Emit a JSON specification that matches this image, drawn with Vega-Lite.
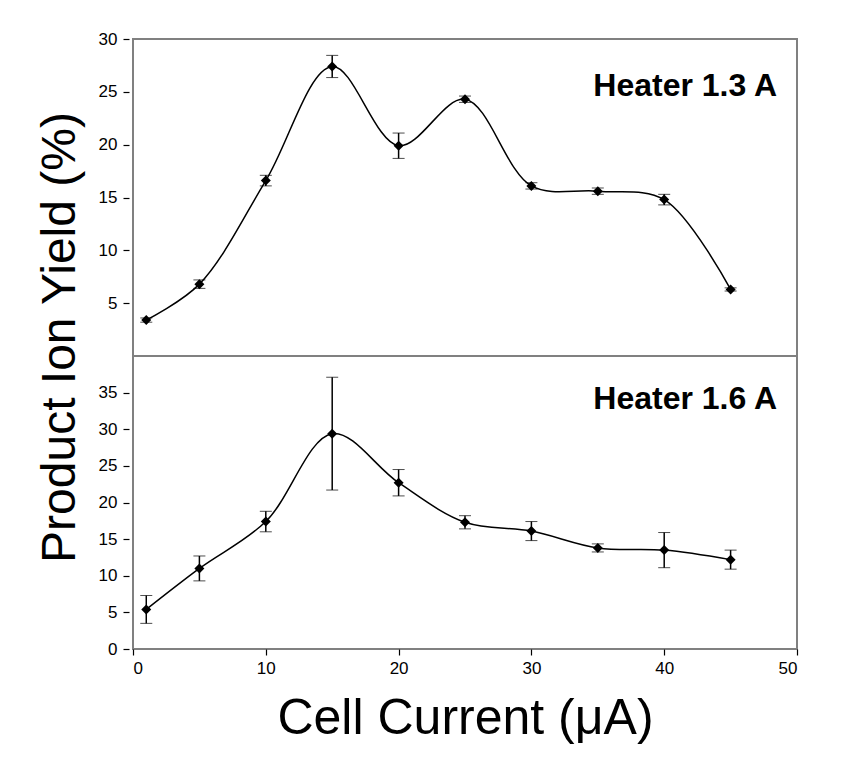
{
  "$schema": "https://vega.github.io/schema/vega-lite/v6.json",
  "background": "white",
  "padding": {"left": 35, "top": 29, "right": 40, "bottom": 5},
  "config": {
    "font": "Liberation Sans",
    "view": {"stroke": "#808080", "strokeWidth": 2},
    "axis": {"domain": false, "grid": false, "tickColor": "black", "tickWidth": 1.2, "labelColor": "black", "labelFontSize": 17, "labelFont": "Liberation Sans", "tickSize": 6}
  },
  "datasets": {
    "h13": [
      {"x": 1, "y": 3.4, "err": 0.2},
      {"x": 5, "y": 6.8, "err": 0.4},
      {"x": 10, "y": 16.6, "err": 0.5},
      {"x": 15, "y": 27.4, "err": 1.05},
      {"x": 20, "y": 19.9, "err": 1.2},
      {"x": 25, "y": 24.3, "err": 0.3},
      {"x": 30, "y": 16.1, "err": 0.3},
      {"x": 35, "y": 15.6, "err": 0.3},
      {"x": 40, "y": 14.8, "err": 0.5},
      {"x": 45, "y": 6.3, "err": 0.15}
    ],
    "h16": [
      {"x": 1, "y": 5.4, "err": 1.9},
      {"x": 5, "y": 11.0, "err": 1.7},
      {"x": 10, "y": 17.4, "err": 1.4},
      {"x": 15, "y": 29.4, "err": 7.7},
      {"x": 20, "y": 22.7, "err": 1.8},
      {"x": 25, "y": 17.3, "err": 0.9},
      {"x": 30, "y": 16.1, "err": 1.3},
      {"x": 35, "y": 13.8, "err": 0.55},
      {"x": 40, "y": 13.5, "err": 2.4},
      {"x": 45, "y": 12.2, "err": 1.3}
    ],
    "labels": [
      {"panel": "top", "label": "Heater 1.3 A", "x": 48.5, "y": 24.6},
      {"panel": "bottom", "label": "Heater 1.6 A", "x": 48.5, "y": 32.7}
    ]
  },
  "spacing": 0,
  "bounds": "flush",
  "vconcat": [
    {
      "width": 664,
      "height": 317,
      "layer": [
        {
          "data": {"name": "h13"},
          "mark": {"type": "line", "interpolate": "catmull-rom", "color": "black", "strokeWidth": 1.5},
          "encoding": {
            "x": {"field": "x", "type": "quantitative", "scale": {"domain": [0, 50], "nice": false}, "axis": null},
            "y": {"field": "y", "type": "quantitative", "title": "Product Ion Yield (%)", "scale": {"domain": [0, 30], "nice": false}, "axis": {"values": [5, 10, 15, 20, 25, 30], "titleFont": "Liberation Sans", "titleFontSize": 48, "titleFontWeight": "normal", "titleColor": "black", "titleY": 298, "titlePadding": 14, "offset": 4, "labelPadding": 6}}
          }
        },
        {
          "data": {"name": "h13"},
          "mark": {"type": "errorbar", "color": "black", "ticks": {"size": 12, "color": "black", "strokeWidth": 1.5}, "rule": {"strokeWidth": 1.5, "color": "black"}},
          "encoding": {
            "x": {"field": "x", "type": "quantitative", "axis": null},
            "y": {"field": "y", "type": "quantitative", "title": "Product Ion Yield (%)"},
            "yError": {"field": "err"}
          }
        },
        {
          "data": {"name": "h13"},
          "mark": {"type": "point", "shape": "diamond", "filled": true, "color": "black", "size": 100, "opacity": 1},
          "encoding": {
            "x": {"field": "x", "type": "quantitative", "axis": null},
            "y": {"field": "y", "type": "quantitative", "title": "Product Ion Yield (%)"}
          }
        },
        {
          "data": {"name": "labels"},
          "transform": [{"filter": "datum.panel == 'top'"}],
          "mark": {"type": "text", "align": "right", "baseline": "alphabetic", "fontSize": 32, "fontWeight": "bold", "font": "Liberation Sans", "color": "black"},
          "encoding": {
            "x": {"field": "x", "type": "quantitative", "axis": null},
            "y": {"field": "y", "type": "quantitative", "title": "Product Ion Yield (%)"},
            "text": {"field": "label"}
          }
        }
      ]
    },
    {
      "width": 664,
      "height": 293,
      "layer": [
        {
          "data": {"name": "h16"},
          "mark": {"type": "line", "interpolate": "catmull-rom", "color": "black", "strokeWidth": 1.5},
          "encoding": {
            "x": {"field": "x", "type": "quantitative", "title": "Cell Current (μA)", "scale": {"domain": [0, 50], "nice": false}, "axis": {"values": [0, 10, 20, 30, 40, 50], "titleFont": "Liberation Sans", "titleFontSize": 50, "titleFontWeight": "normal", "titleColor": "black", "titlePadding": 17, "labelPadding": 5}},
            "y": {"field": "y", "type": "quantitative", "title": null, "scale": {"domain": [0, 40], "nice": false}, "axis": {"values": [0, 5, 10, 15, 20, 25, 30, 35], "offset": 4, "labelPadding": 6}}
          }
        },
        {
          "data": {"name": "h16"},
          "mark": {"type": "errorbar", "color": "black", "ticks": {"size": 12, "color": "black", "strokeWidth": 1.5}, "rule": {"strokeWidth": 1.5, "color": "black"}},
          "encoding": {
            "x": {"field": "x", "type": "quantitative", "title": "Cell Current (μA)"},
            "y": {"field": "y", "type": "quantitative", "title": null},
            "yError": {"field": "err"}
          }
        },
        {
          "data": {"name": "h16"},
          "mark": {"type": "point", "shape": "diamond", "filled": true, "color": "black", "size": 100, "opacity": 1},
          "encoding": {
            "x": {"field": "x", "type": "quantitative", "title": "Cell Current (μA)"},
            "y": {"field": "y", "type": "quantitative", "title": null}
          }
        },
        {
          "data": {"name": "labels"},
          "transform": [{"filter": "datum.panel == 'bottom'"}],
          "mark": {"type": "text", "align": "right", "baseline": "alphabetic", "fontSize": 32, "fontWeight": "bold", "font": "Liberation Sans", "color": "black"},
          "encoding": {
            "x": {"field": "x", "type": "quantitative", "title": "Cell Current (μA)"},
            "y": {"field": "y", "type": "quantitative", "title": null},
            "text": {"field": "label"}
          }
        }
      ]
    }
  ]
}
